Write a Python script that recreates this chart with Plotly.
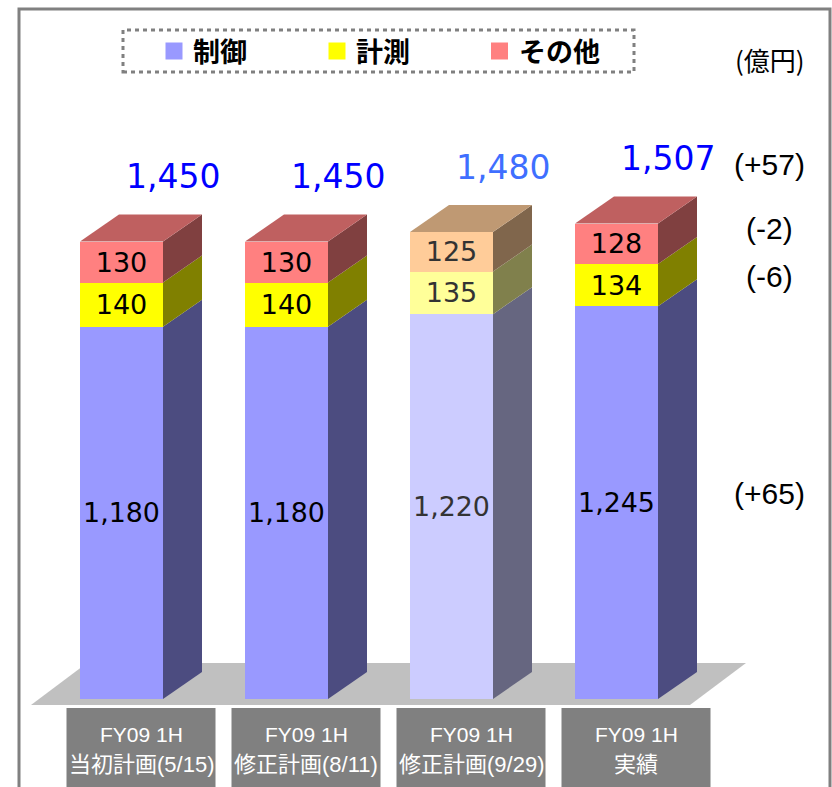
import plotly.graph_objects as go

# ---------------- data ----------------
cat_line1 = ["FY09 1H", "FY09 1H", "FY09 1H", "FY09 1H"]
cat_line2 = ["当初計画(5/15)", "修正計画(8/11)", "修正計画(9/29)", "実績"]
series_names = ["制御", "計測", "その他"]
control = [1180, 1180, 1220, 1245]
measure = [140, 140, 135, 134]
other = [130, 130, 125, 128]
totals = [1450, 1450, 1480, 1507]
unit_label = "(億円)"

# ---------------- styles ----------------
W, H = 832, 787
front_colors = [
    ["#9999FF", "#9999FF", "#CCCCFF", "#9999FF"],
    ["#FFFF00", "#FFFF00", "#FFFF99", "#FFFF00"],
    ["#FF8080", "#FF8080", "#FFCC99", "#FF8080"],
]
legend_colors = ["#9999FF", "#FFFF00", "#FF8080"]
label_colors = ["#000000", "#000000", "#333333", "#000000"]
total_colors = ["#0000FF", "#0000FF", "#3F6FFF", "#0000FF"]

NUM_FONT = "DejaVu Sans"
LAT_FONT = "Liberation Sans, Arial, Noto Sans CJK JP"
JP_FONT = "Noto Sans CJK JP"


def shade(hexc, f):
    h = hexc.lstrip("#")
    r, g, b = (int(h[i:i + 2], 16) for i in (0, 2, 4))
    return "#%02X%02X%02X" % (round(r * f), round(g * f), round(b * f))


# pixel geometry -> axis units
PX_PER_CAT = 165.0
X0_PX = 121.5
Y_PER_PX = 3.17
BASE_PX = 699.0
x_range = [(0 - X0_PX) / PX_PER_CAT, (W - X0_PX) / PX_PER_CAT]
y_range = [-(H - BASE_PX) * Y_PER_PX, BASE_PX * Y_PER_PX]
BW = 83 / PX_PER_CAT          # bar front width
DX = 39 / PX_PER_CAT          # depth in x
DY = 27 * Y_PER_PX            # depth in y

xs = list(range(len(cat_line2)))
series = [control, measure, other]

fig = go.Figure()

# front faces (stacked bars)
for k, (name, vals) in enumerate(zip(series_names, series)):
    fig.add_trace(go.Bar(
        x=xs, y=vals, name=name, width=BW,
        marker=dict(color=front_colors[k], line=dict(width=0)),
        text=[f"{v:,}" for v in vals], textposition="inside",
        insidetextanchor="middle", textangle=0,
        textfont=dict(family=NUM_FONT, size=27, color=label_colors),
        showlegend=False, hoverinfo="skip",
    ))

# side and top faces, computed from the stacked values
for i in xs:
    base = 0
    xl, xr = i - BW / 2, i + BW / 2
    for k, vals in enumerate(series):
        top = base + vals[i]
        fig.add_trace(go.Scatter(
            x=[xr, xr + DX, xr + DX, xr, xr],
            y=[base, base + DY, top + DY, top, base],
            fill="toself", mode="lines", line=dict(width=0),
            fillcolor=shade(front_colors[k][i], 0.5),
            showlegend=False, hoverinfo="skip"))
        base = top
    k = len(series) - 1
    fig.add_trace(go.Scatter(
        x=[xl, xl + DX, xr + DX, xr, xl],
        y=[base, base + DY, base + DY, base, base],
        fill="toself", mode="lines", line=dict(width=0),
        fillcolor=shade(front_colors[k][i], 0.75),
        showlegend=False, hoverinfo="skip"))

shapes = []
annotations = []

# floor
fx0 = xs[0] - BW / 2 - 49 / PX_PER_CAT
fx1 = xs[-1] + BW / 2 + DX + 49 / PX_PER_CAT
fdx = 56 / PX_PER_CAT
fy0 = -6 * Y_PER_PX
fy1 = 36 * Y_PER_PX
shapes.append(dict(
    type="path", xref="x", yref="y", layer="below",
    path=f"M{fx0},{fy0} L{fx0 + fdx},{fy1} L{fx1},{fy1} L{fx1 - fdx},{fy0} Z",
    fillcolor="#C0C0C0", line=dict(width=0)))


def px(x):
    return x / W


def py(y):
    return 1 - y / H


def ann(**kw):
    kw.setdefault("xanchor", "center")
    kw.setdefault("yanchor", "middle")
    kw.setdefault("showarrow", False)
    annotations.append(kw)


# category boxes and labels
for i in xs:
    cx = i + DX / 2
    shapes.append(dict(type="rect", xref="x", yref="paper",
                       x0=cx - 74.5 / PX_PER_CAT, x1=cx + 74.5 / PX_PER_CAT,
                       y0=py(800), y1=py(708),
                       fillcolor="#808080", line=dict(width=0)))
    ann(x=cx, y=py(734), xref="x", yref="paper", text=cat_line1[i],
        font=dict(family=LAT_FONT, size=21, color="white"))
    ann(x=cx, y=py(764), xref="x", yref="paper", text=cat_line2[i],
        font=dict(family=LAT_FONT, size=22, color="white"))

# totals above bars
for i in xs:
    ann(x=i, y=totals[i] + DY, xref="x", yref="y", xshift=51, yshift=38,
        text=f"{totals[i]:,}",
        font=dict(family=NUM_FONT, size=33, color=total_colors[i]))

# differences: actual vs initial plan
last, first = xs[-1], xs[0]
diff_items = [
    (totals[last] - totals[first], totals[last] + DY, 32),
    (other[last] - other[first], control[last] + measure[last] + other[last] / 2, 15),
    (measure[last] - measure[first], control[last] + measure[last] / 2, 9),
    (control[last] - control[first], control[last] / 2, 9),
]
for d, yv, ys in diff_items:
    ann(x=px(769), y=yv, xref="paper", yref="y", yshift=ys,
        text=f"({d:+d})",
        font=dict(family=LAT_FONT, size=30, color="black"))

# unit label
ann(x=px(769.5), y=py(59), xref="paper", yref="paper", text=unit_label,
    font=dict(family=JP_FONT, size=26, color="black"))

# legend box (dotted) with entries
shapes.append(dict(type="rect", xref="paper", yref="paper",
                   x0=px(123), x1=px(634), y0=py(72), y1=py(30),
                   line=dict(color="#808080", width=3, dash="4px,4px")))
leg_sq_x = [165.5, 328.5, 491]
leg_tx_x = [191, 354, 517]
for k, name in enumerate(series_names):
    shapes.append(dict(type="rect", xref="paper", yref="paper",
                       x0=px(leg_sq_x[k]), x1=px(leg_sq_x[k] + 17),
                       y0=py(59.5), y1=py(42.5),
                       fillcolor=legend_colors[k], line=dict(width=0)))
    ann(x=px(leg_tx_x[k]), y=py(51), xref="paper", yref="paper",
        xanchor="left", text=f"<b>{name}</b>",
        font=dict(family=JP_FONT, size=27, color="black"))

# outer frame
shapes.append(dict(type="rect", xref="paper", yref="paper",
                   x0=px(19), x1=px(830), y0=-0.1, y1=py(9),
                   line=dict(color="#808080", width=3), fillcolor="rgba(0,0,0,0)"))

fig.update_layout(
    width=W, height=H, margin=dict(l=0, r=0, t=0, b=0),
    paper_bgcolor="white", plot_bgcolor="white",
    barmode="stack", showlegend=False,
    xaxis=dict(range=x_range, visible=False, fixedrange=True),
    yaxis=dict(range=y_range, visible=False, fixedrange=True),
    shapes=shapes, annotations=annotations,
)

fig.write_html("out.html")
